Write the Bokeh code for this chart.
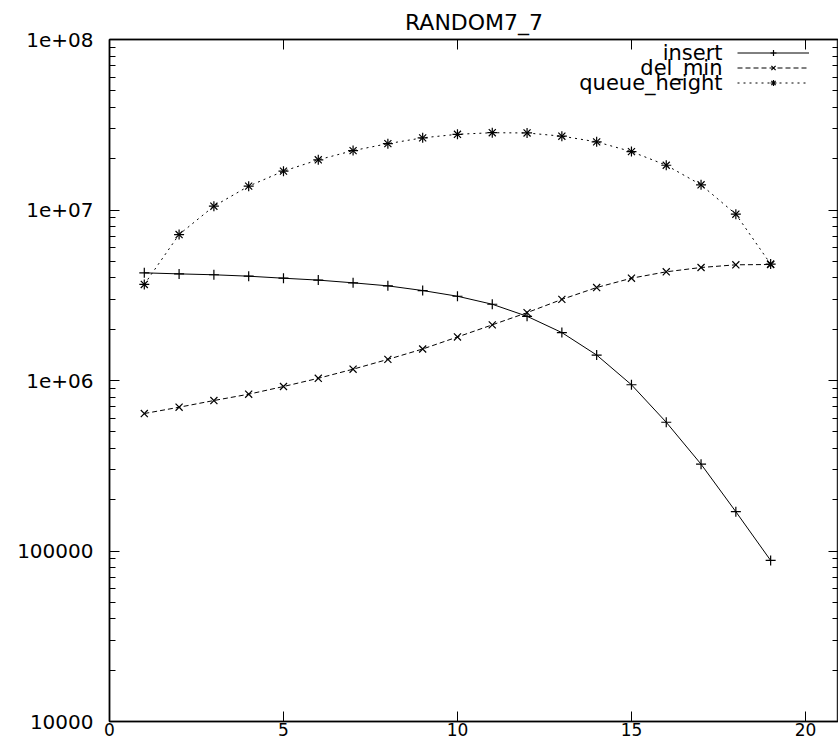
from bokeh.plotting import figure
from bokeh.models import (FixedTicker, LinearAxis, LogAxis, Legend, LegendItem,
                          Label, Range1d)
from bokeh.embed import file_html
from bokeh.resources import INLINE

TITLE = "RANDOM7_7"
X = [1, 2, 3, 4, 5, 6, 7, 8, 9, 10, 11, 12, 13, 14, 15, 16, 17, 18, 19]
INSERT = [4.28e6, 4.22e6, 4.17e6, 4.09e6, 3.98e6, 3.88e6, 3.74e6, 3.59e6, 3.37e6,
          3.12e6, 2.80e6, 2.38e6, 1.91e6, 1.41e6, 9.44e5, 5.69e5, 3.23e5, 1.70e5, 8.80e4]
DEL_MIN = [6.40e5, 6.97e5, 7.63e5, 8.31e5, 9.22e5, 1.03e6, 1.165e6, 1.33e6, 1.53e6,
           1.80e6, 2.12e6, 2.50e6, 2.99e6, 3.51e6, 3.98e6, 4.34e6, 4.60e6, 4.77e6, 4.79e6]
QUEUE_HEIGHT = [3.66e6, 7.18e6, 1.053e7, 1.38e7, 1.69e7, 1.97e7, 2.23e7, 2.45e7, 2.65e7,
                2.78e7, 2.84e7, 2.83e7, 2.71e7, 2.51e7, 2.20e7, 1.83e7, 1.405e7, 9.45e6, 4.82e6]
SERIES_NAMES = ["insert", "del_min", "queue_height"]
X_TICKS = [0, 5, 10, 15, 20]
Y_TICKS = [1e4, 1e5, 1e6, 1e7, 1e8]
Y_TICK_LABELS = ["10000", "100000", "1e+06", "1e+07", "1e+08"]

FONT = "DejaVu Sans"

Y_MINOR = [m * 10 ** k for k in range(4, 8) for m in range(2, 10)]

p = figure(width=838, height=742, y_axis_type="log", output_backend="svg",
           toolbar_location=None, x_range=Range1d(0, 20.95),
           y_range=Range1d(1e4, 1e8), x_axis_location=None, y_axis_location=None,
           min_border_left=109, min_border_top=39, min_border_bottom=21,
           min_border_right=0)
p.background_fill_color = "white"
p.border_fill_color = "white"
p.outline_line_color = "#333333"
p.outline_line_width = 1.5
p.grid.visible = False

p.title.text = TITLE
p.title.align = "center"
p.title.text_font = FONT
p.title.text_font_size = "22px"
p.title.text_font_style = "normal"
p.title.text_color = "black"
p.title.standoff = 10

xt = FixedTicker(ticks=X_TICKS, minor_ticks=[])
yt = FixedTicker(ticks=Y_TICKS, minor_ticks=Y_MINOR)
overrides = {v: s for v, s in zip(Y_TICKS, Y_TICK_LABELS)}


def style(ax, labels=True):
    ax.major_tick_in = 10
    ax.major_tick_out = 0
    ax.minor_tick_in = 6
    ax.minor_tick_out = 0
    ax.axis_line_color = "black"
    ax.axis_line_width = 1.5
    ax.major_tick_line_color = "black"
    ax.minor_tick_line_color = "black"
    ax.major_label_text_font = FONT
    if labels:
        ax.major_label_text_color = "black"
        ax.major_label_text_font_size = "20px"
    else:
        ax.major_label_text_color = None
        ax.major_label_text_font_size = "1px"
        ax.major_label_standoff = 0


bottom = LinearAxis(ticker=xt)
style(bottom)
bottom.major_label_text_font_size = "17px"
bottom.major_label_standoff = 1
top = LinearAxis(ticker=xt, major_label_overrides={v: "" for v in X_TICKS})
style(top, labels=False)
left = LogAxis(ticker=yt, major_label_overrides=overrides)
style(left)
left.major_label_standoff = 16
right = LogAxis(ticker=yt, major_label_overrides={v: "" for v in Y_TICKS})
style(right, labels=False)
p.add_layout(bottom, "below")
p.add_layout(top, "above")
p.add_layout(left, "left")
p.add_layout(right, "right")

series = [
    (INSERT, None, ["cross"]),
    (DEL_MIN, "5 3", ["x"]),
    (QUEUE_HEIGHT, "2 4", ["cross", "x"]),
]
items = []
for (vals, dash, markers), name in zip(series, SERIES_NAMES):
    kw = {}
    if dash:
        kw["line_dash"] = dash
    rs = [p.line(X, vals, line_color="black", line_width=1, **kw)]
    for m in markers:
        rs.append(p.scatter(X, vals, marker=m, size=10, line_color="black",
                            fill_color=None, line_width=1.2))
    items.append(LegendItem(label=name, renderers=rs))

legend = Legend(items=items, location=(628, 631), orientation="vertical",
                border_line_color=None, background_fill_alpha=0,
                padding=0, margin=0, spacing=0, glyph_width=72, glyph_height=15,
                label_width=0, label_height=15, label_standoff=0,
                label_text_font_size="1px", label_text_color=None)
p.add_layout(legend, "center")

for i, name in enumerate(SERIES_NAMES):
    p.add_layout(Label(x=613, y=669 - 15 * i, x_units="screen", y_units="screen",
                       text=name, text_align="right", text_baseline="middle",
                       text_font=FONT, text_font_size="21px", text_color="black"))

open("out.html", "w").write(file_html(p, INLINE))
